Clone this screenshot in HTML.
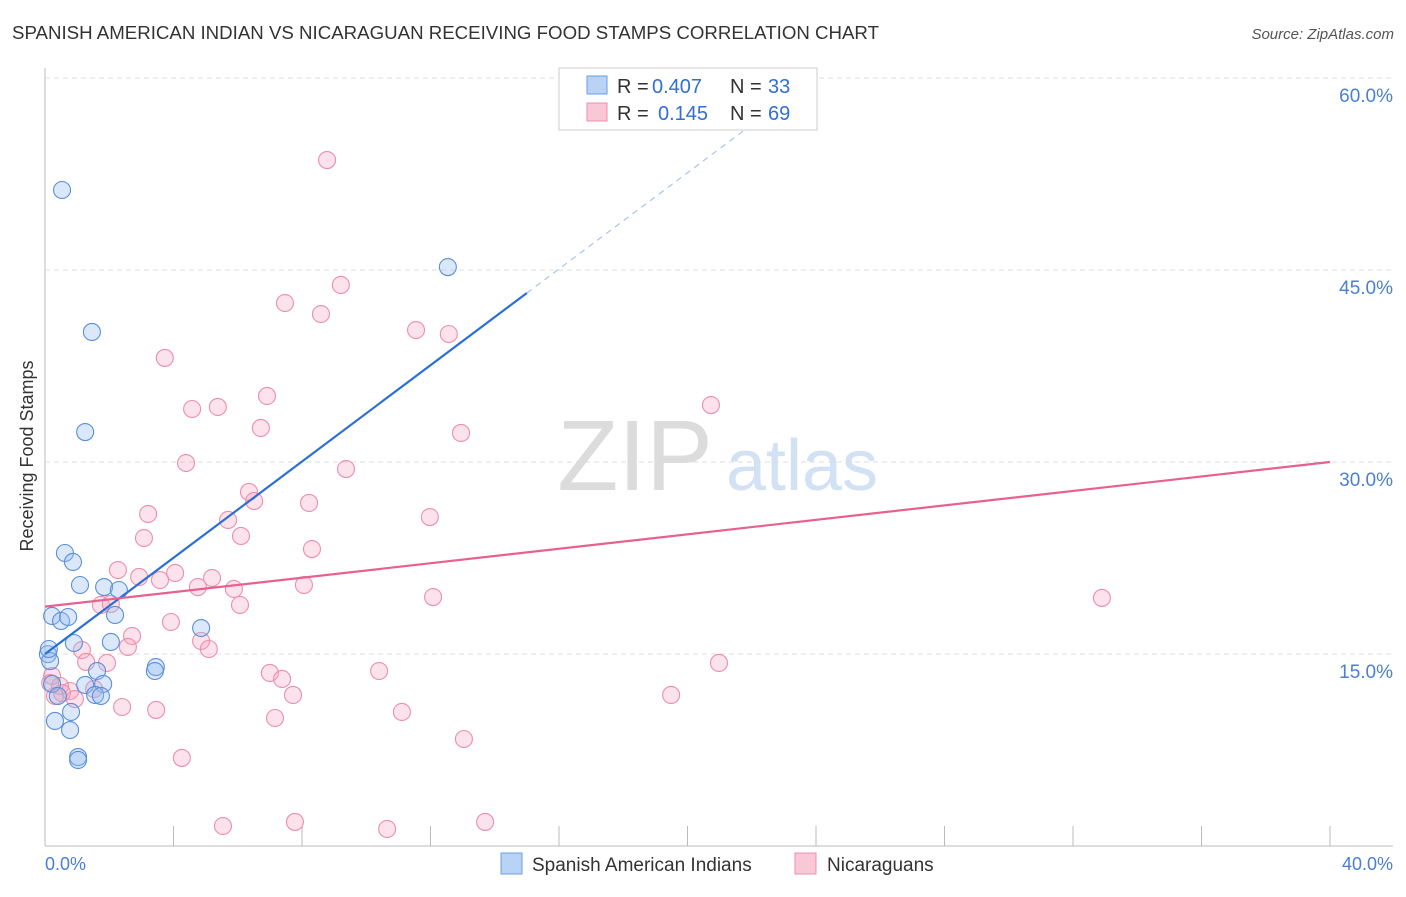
<!DOCTYPE html>
<html><head><meta charset="utf-8"><style>
body{margin:0;background:#fff;font-family:"Liberation Sans",sans-serif}
svg text{font-family:"Liberation Sans",sans-serif}
</style></head><body>
<svg id="c" width="1406" height="892">
<text x="12" y="39" font-size="18" fill="#333" textLength="867" lengthAdjust="spacingAndGlyphs">SPANISH AMERICAN INDIAN VS NICARAGUAN RECEIVING FOOD STAMPS CORRELATION CHART</text>
<text x="1394" y="39" font-size="15" fill="#555" font-style="italic" text-anchor="end">Source: ZipAtlas.com</text>
<text x="33" y="456" font-size="18" fill="#333" text-anchor="middle" transform="rotate(-90 33 456)">Receiving Food Stamps</text>
<g><text x="635" y="490" font-size="100" fill="#dcdcdc" font-family="Liberation Serif" text-anchor="middle">ZIP</text><text x="802" y="490" font-size="72" fill="#d2e1f4" text-anchor="middle">atlas</text></g>
<g id="grid"></g><g id="pts"></g><g id="lines"></g>
<g>
<rect x="559" y="68" width="258" height="62" fill="#fff" stroke="#ccc"/>
<rect x="587" y="76" width="20" height="18" fill="#b8d3f5" stroke="#6c9ee0"/>
<rect x="587" y="103" width="20" height="18" fill="#f9c7d6" stroke="#ec8fae"/>
<text x="617" y="93" font-size="20" fill="#333">R =</text>
<text x="652" y="93" font-size="20" fill="#2f6fd6">0.407</text>
<text x="730" y="93" font-size="20" fill="#333">N =</text>
<text x="768" y="93" font-size="20" fill="#2f6fd6">33</text>
<text x="617" y="120" font-size="20" fill="#333">R =</text>
<text x="658" y="120" font-size="20" fill="#2f6fd6">0.145</text>
<text x="730" y="120" font-size="20" fill="#333">N =</text>
<text x="768" y="120" font-size="20" fill="#2f6fd6">69</text>
</g>
<g>
<rect x="501" y="853" width="21" height="21" fill="#b8d3f5" stroke="#6c9ee0"/>
<text x="532" y="871" font-size="19" fill="#333">Spanish American Indians</text>
<rect x="795" y="853" width="21" height="21" fill="#f9c7d6" stroke="#ec8fae"/>
<text x="827" y="871" font-size="19" fill="#333">Nicaraguans</text>
</g>
<text x="45" y="870" font-size="18" fill="#4a7fd4">0.0%</text>
<text x="1393" y="870" font-size="18" fill="#4a7fd4" text-anchor="end">40.0%</text>
</svg>
<script>
const yTicks=[15,30,45,60];
const yTickLabels=["15.0%","30.0%","45.0%","60.0%"];
const xTicks=[0,4,8,12,16,20,24,28,32,36,40];
const blueX=[0.53,1.46,1.25,12.54,0.62,0.87,1.09,1.84,2.30,0.22,0.50,0.72,2.18,2.05,0.90,4.86,0.09,0.16,3.45,3.42,1.62,0.22,1.25,1.81,0.40,1.56,1.74,0.31,0.81,0.78,1.03,1.03,0.12];
const blueY=[51.25,40.16,32.34,45.23,22.89,22.19,20.39,20.23,20.0,17.97,17.58,17.89,18.05,15.94,15.86,17.03,14.99,14.45,13.98,13.67,13.67,12.66,12.58,12.66,11.72,11.8,11.72,9.77,10.47,9.06,6.95,6.72,15.39];
const pinkX=[8.78,9.21,7.47,8.59,11.55,12.57,3.73,20.73,4.58,5.38,6.91,6.72,12.95,4.39,9.37,6.35,6.51,8.22,3.21,5.70,11.98,6.10,3.08,8.31,2.27,4.05,2.93,3.58,5.20,4.76,5.88,8.06,12.08,32.9,1.74,2.05,6.07,3.92,2.71,2.58,4.86,5.10,1.15,1.93,1.28,20.98,7.00,7.38,10.4,0.22,0.47,0.78,0.53,0.31,1.53,0.93,7.72,19.49,2.40,3.46,7.16,11.11,13.04,4.26,5.54,7.78,10.65,13.70,0.16];
const pinkY=[53.59,43.83,42.42,41.56,40.31,40.0,38.13,34.45,34.14,34.3,35.16,32.66,32.27,29.92,29.45,27.66,26.95,26.8,25.94,25.47,25.7,24.22,24.06,23.2,21.56,21.33,21.02,20.78,20.94,20.23,20.08,20.39,19.45,19.38,18.83,18.91,18.83,17.5,16.41,15.55,16.02,15.39,15.31,14.3,14.38,14.3,13.52,13.05,13.67,13.28,12.5,12.11,11.95,11.72,12.27,11.48,11.8,11.8,10.86,10.63,10.0,10.47,8.36,6.88,1.56,1.88,1.33,1.88,12.73];
const blueTrend=[0,15.0,15.0,43.2];
const blueTrendEnd=23.5;
const pinkTrend=[0,18.7,40,30.0];
const X=v=>45+v/40*1285, Y=v=>846-v/15*192;
const NS="http://www.w3.org/2000/svg";
function mk(tag,attrs,parent){const e=document.createElementNS(NS,tag);for(const k in attrs)e.setAttribute(k,attrs[k]);parent.appendChild(e);return e;}
const grid=document.getElementById('grid'),pts=document.getElementById('pts'),lines=document.getElementById('lines');
let ax=mk('line',{x1:45,y1:68,x2:45,y2:846,stroke:'#bbb'},grid);


let bx=mk('line',{x1:45,y1:846,x2:1393,y2:846,stroke:'#bbb'},grid);


yTicks.forEach((t,i)=>{
 const g=mk('line',{x1:45,y1:Y(t),x2:1393,y2:Y(t),stroke:'#ddd','stroke-dasharray':'5,4'},grid);
 
 
 const l=mk('text',{x:1393,y:Y(t)+24,'font-size':19,fill:'#4a7fd4','text-anchor':'end'},grid);
 l.textContent=yTickLabels[i];
 
 
});
xTicks.forEach(t=>{
 const k=mk('line',{x1:X(t),y1:826,x2:X(t),y2:846,stroke:'#bbb'},grid);
 
 
});
pinkX.forEach((x,i)=>{
 const c=mk('circle',{cx:X(x),cy:Y(pinkY[i]),r:8.5,fill:'rgba(244,160,186,0.3)',stroke:'#ec8fae','stroke-width':1.1},pts);
 
 
});
blueX.forEach((x,i)=>{
 const c=mk('circle',{cx:X(x),cy:Y(blueY[i]),r:8.5,fill:'rgba(150,190,240,0.35)',stroke:'#5b8fd8','stroke-width':1.1},pts);
 
 
});
const bs=(blueTrend[3]-blueTrend[1])/(blueTrend[2]-blueTrend[0]);
let bl=mk('line',{x1:X(blueTrend[0]),y1:Y(blueTrend[1]),x2:X(blueTrend[2]),y2:Y(blueTrend[3]),stroke:'#2a6fd6','stroke-width':2.2},lines);


let bd=mk('line',{x1:X(blueTrend[2]),y1:Y(blueTrend[3]),x2:X(blueTrendEnd),y2:Y(blueTrend[1]+bs*blueTrendEnd),stroke:'#a9c4ea','stroke-width':1.2,'stroke-dasharray':'6,5'},lines);


let pl=mk('line',{x1:X(pinkTrend[0]),y1:Y(pinkTrend[1]),x2:X(pinkTrend[2]),y2:Y(pinkTrend[3]),stroke:'#e8608e','stroke-width':2.2},lines);


</script>
</body></html>
